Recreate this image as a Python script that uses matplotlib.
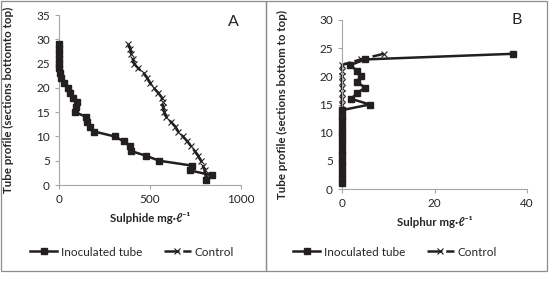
import matplotlib
matplotlib.use('Agg')
from matplotlib import pyplot as plt
from matplotlib.patches import Rectangle

plt.rcParams['font.family'] = ['Lato', 'DejaVu Sans']

# panel A: sulphide along the tube (sections 1..29)
sections_a = list(range(1, 30))
sulphide_inoculated = [810, 840, 720, 730, 550, 480, 395, 390, 355, 305,
                       195, 170, 155, 150, 90, 95, 100, 75, 60, 50,
                       30, 12, 5, 2, 0, 0, 0, 0, 0]
sulphide_control = [810, 805, 800, 790, 780, 765, 745, 725, 705, 680,
                    655, 640, 615, 590, 578, 572, 570, 565, 545, 520,
                    500, 485, 465, 436, 412, 405, 398, 392, 380]

# panel B: sulphur along the tube (sections 1..24)
sections_b = list(range(1, 25))
sulphur_inoculated = [0] * 14 + [6, 2, 3.2, 5, 3.2, 4, 3.2, 1.8, 5, 37]
sulphur_control = [0] * 22 + [4, 9]

line_color = '#231f20'
axis_color = '#a6a6a6'
text_color = '#262626'

fig = plt.figure(figsize=(5.49, 2.85), dpi=100)
W, H = 549, 285


def px_axes(x0, y0, x1, y1):
    # pixel box (top-left origin) -> axes in figure fractions
    return fig.add_axes([x0 / W, 1 - y1 / H, (x1 - x0) / W, (y1 - y0) / H])


def style_axes(ax):
    for side in ['top', 'right']:
        ax.spines[side].set_visible(False)
    for side in ['left', 'bottom']:
        ax.spines[side].set_color(axis_color)
        ax.spines[side].set_linewidth(0.8)
    ax.tick_params(axis='both', colors=axis_color, labelcolor=text_color,
                   labelsize=8.5, length=3, width=0.8, direction='out')


def draw_panel(ax, sections, inoc, ctrl):
    ax.plot(ctrl, sections, color=line_color, linewidth=1.8, dashes=(6, 1.5),
            marker='x', markersize=4.5, markeredgewidth=0.8, markeredgecolor=line_color,
            label='Control', clip_on=False, zorder=2)
    ax.plot(inoc, sections, color=line_color, linewidth=1.8,
            marker='s', markersize=4.8, markerfacecolor=line_color, markeredgecolor=line_color,
            label='Inoculated tube', clip_on=False, zorder=3)


# panel A
ax1 = px_axes(59, 15, 241, 185)
draw_panel(ax1, sections_a, sulphide_inoculated, sulphide_control)
ax1.set_xlim(0, 1000)
ax1.set_ylim(0, 35)
ax1.set_xticks([0, 500, 1000])
ax1.set_yticks(range(0, 36, 5))
style_axes(ax1)
ax1.set_xlabel('Sulphide mg·ℓ⁻¹', fontsize=8.3, fontweight='bold', color=text_color, labelpad=5)
ax1.set_ylabel('Tube profile (sections bottomto top)', fontsize=8.3, fontweight='bold',
               color=text_color)
ax1.yaxis.set_label_coords((14 - 59) / 182, 0.5)

# panel B
ax2 = px_axes(342, 20, 527, 189)
draw_panel(ax2, sections_b, sulphur_inoculated, sulphur_control)
ax2.set_xlim(0, 40)
ax2.set_ylim(0, 30)
ax2.set_xticks([0, 20, 40])
ax2.set_yticks(range(0, 31, 5))
style_axes(ax2)
ax2.set_xlabel('Sulphur mg·ℓ⁻¹', fontsize=8.3, fontweight='bold', color=text_color, labelpad=5)
ax2.set_ylabel('Tube profile (sections bottom to top)', fontsize=8.3, fontweight='bold',
               color=text_color)
ax2.yaxis.set_label_coords((288 - 342) / 185, 0.5)

# panel letters
fig.text(233 / W, 1 - 22 / H, 'A', fontsize=11.5, color=text_color, ha='center', va='center')
fig.text(517 / W, 1 - 20 / H, 'B', fontsize=11.5, color=text_color, ha='center', va='center')

# legends under each panel, inoculated first
for ax, cx in [(ax1, 132), (ax2, 395)]:
    handles, labels = ax.get_legend_handles_labels()
    fig.legend(handles[::-1], labels[::-1], loc='center', bbox_to_anchor=(cx / W, 1 - 252 / H),
               ncol=2, frameon=False, fontsize=8.5, handlelength=2.3, columnspacing=1.8,
               handletextpad=0.3, labelcolor=text_color)

# grey frames round each panel
for x0, x1 in [(1, 266), (266, 547)]:
    fig.patches.append(Rectangle((x0 / W, 1 - 271 / H), (x1 - x0) / W, 270 / H,
                                 transform=fig.transFigure, fill=False,
                                 edgecolor='#8c8c8c', linewidth=0.9))

fig.savefig('out.png', dpi=100)
